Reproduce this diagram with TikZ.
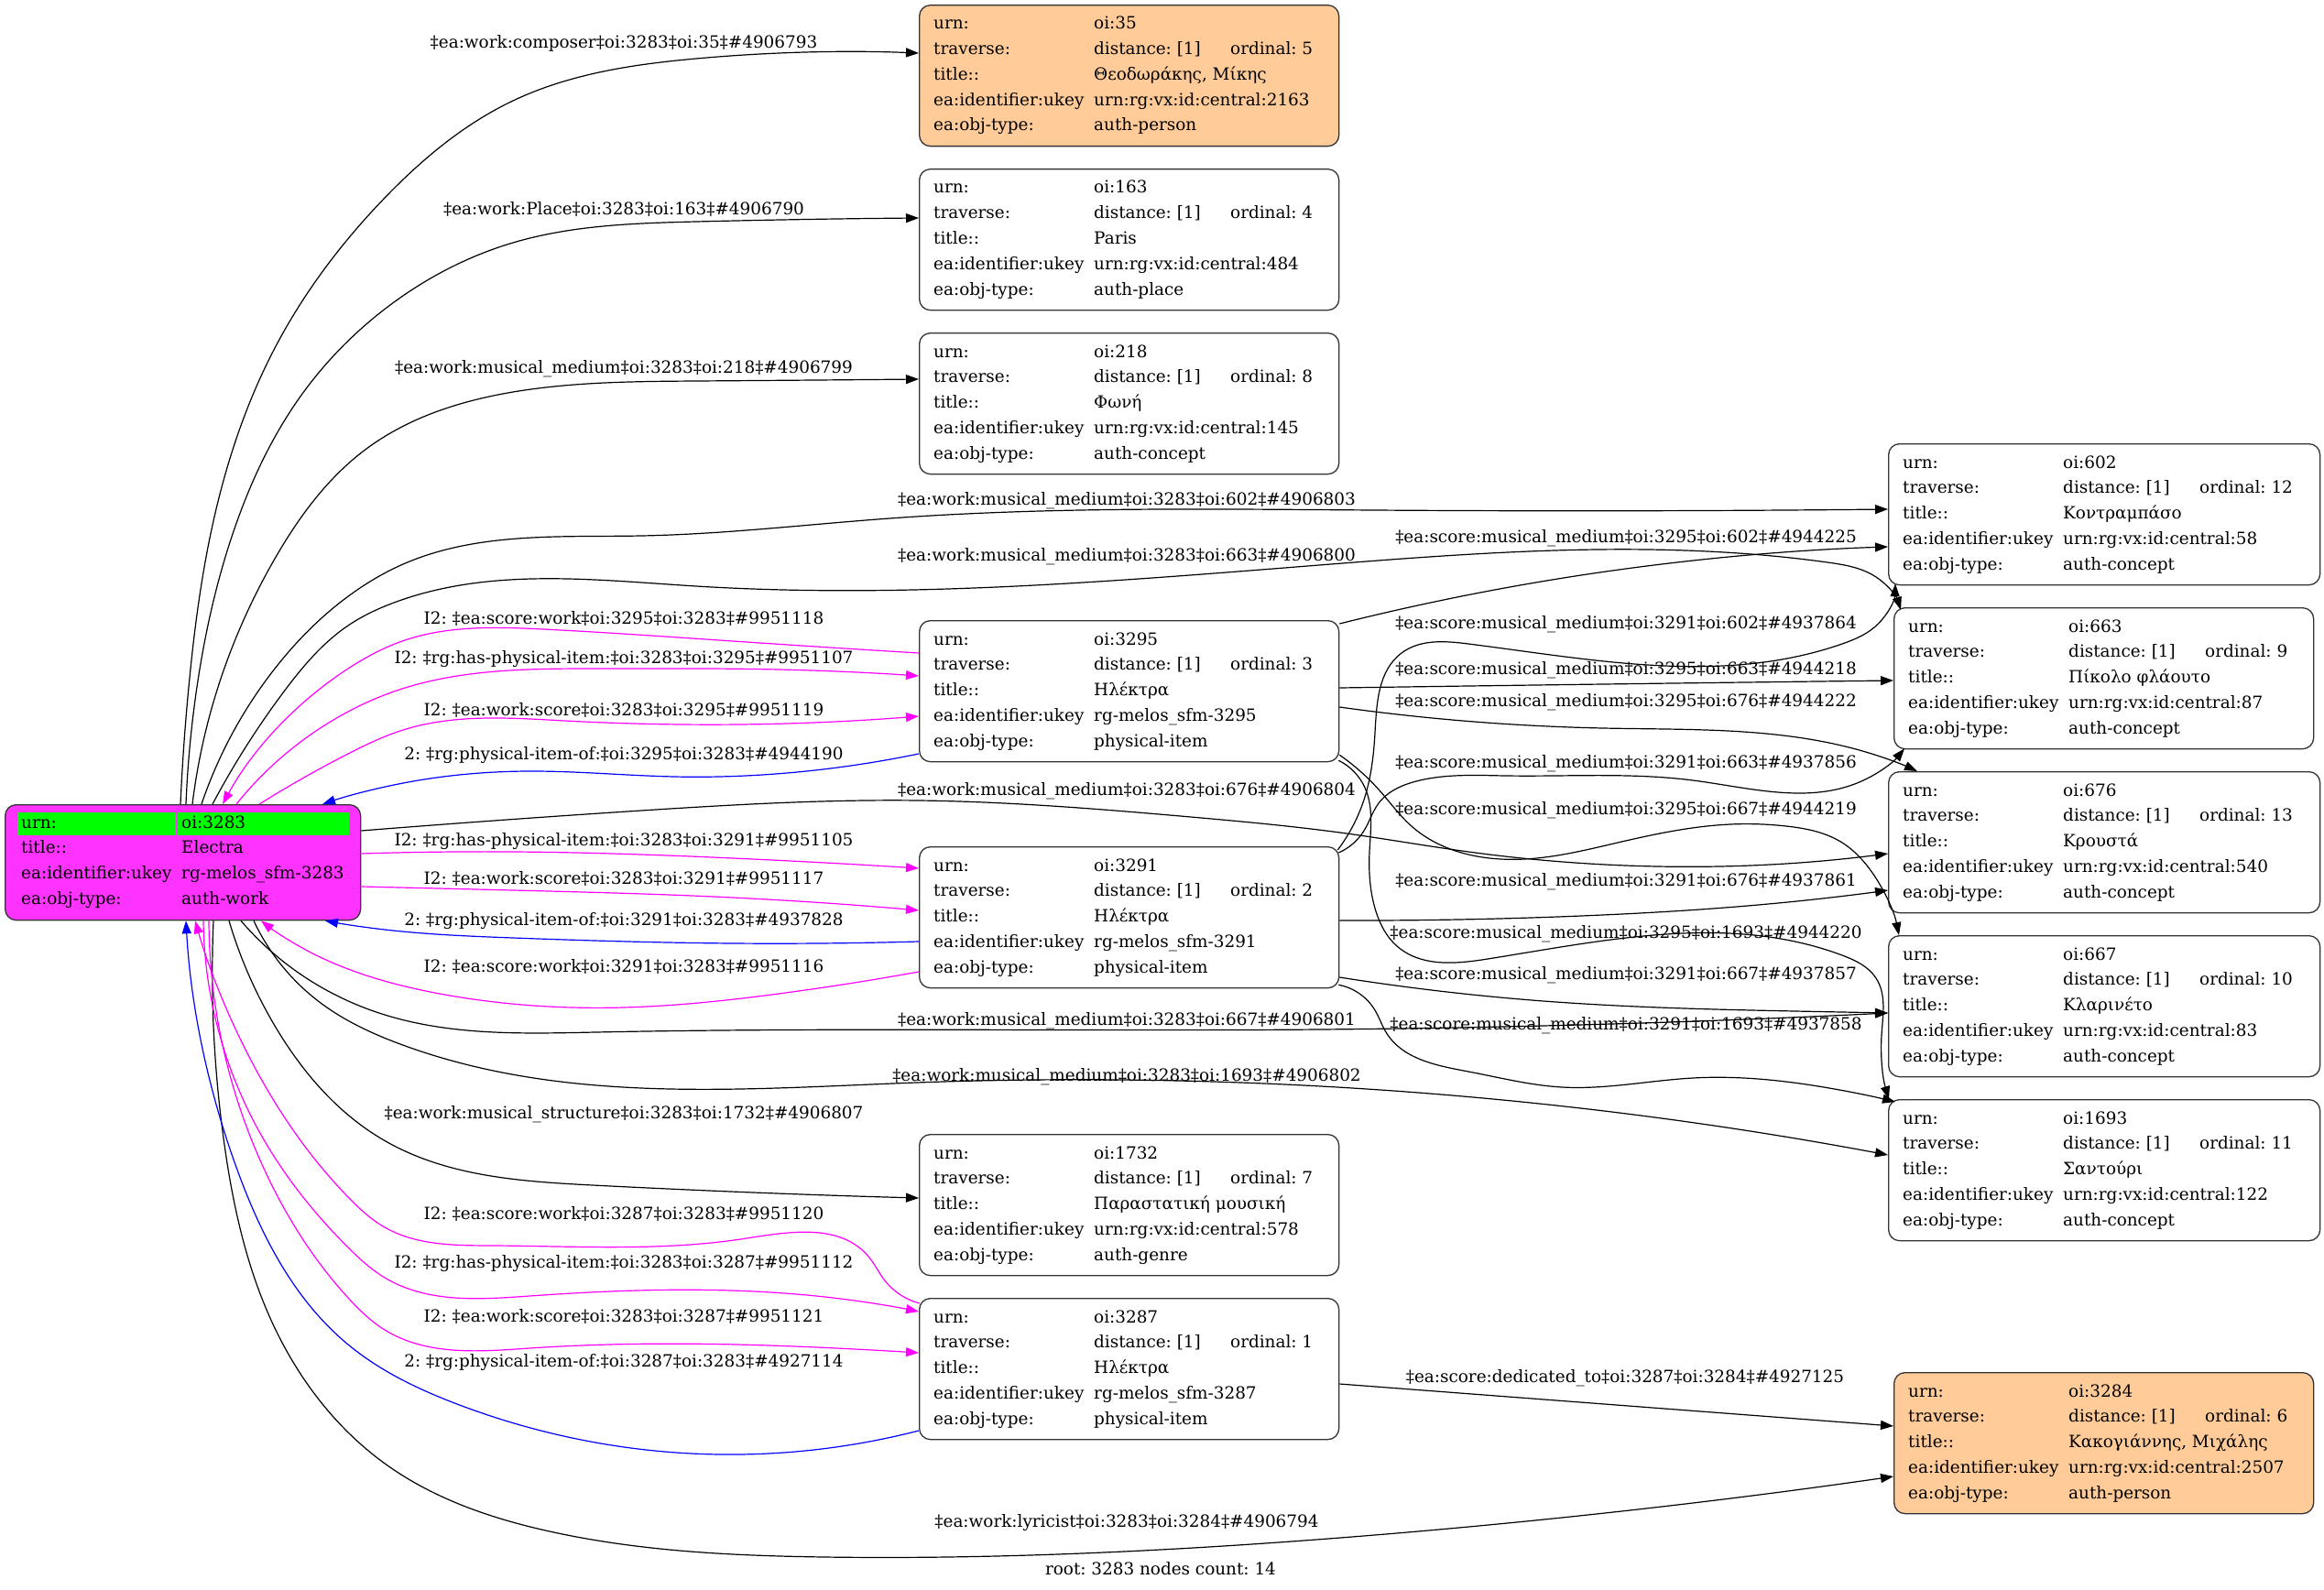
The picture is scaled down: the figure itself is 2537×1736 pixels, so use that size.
\documentclass[tikz,border=0pt]{standalone}
\usepackage{fontspec}
\setmainfont{DejaVu Serif}
\usetikzlibrary{arrows.meta,calc,hobby}
\definecolor{rootfill}{HTML}{FF33FF}
\definecolor{hilite}{HTML}{00FF00}
\definecolor{peach}{HTML}{FFCC99}
\definecolor{emag}{HTML}{FF00FF}
\definecolor{eblue}{HTML}{0000FF}
\definecolor{bord}{HTML}{333333}
\frenchspacing
\newcommand{\fs}{\fontsize{18.4}{22}\selectfont}
\newcommand{\cells}[1]{{\def\arraystretch{1.2614}\begin{tabular}[t]{@{}p{175pt}@{}l@{}}#1\end{tabular}}}
\newcommand{\trav}[1]{\makebox[149pt][l]{distance: [1]}ordinal: #1}
\begin{document}
\frenchspacing
\begin{tikzpicture}[x=1pt,y=-1pt,
  box/.style={draw=bord, line width=1.3pt, rounded corners=12pt, anchor=north west, inner sep=0pt, minimum height=154pt, minimum width=458pt},
  wide/.style={minimum width=471pt},
  txt/.style={anchor=base west, inner sep=0pt, font=\fs},
  lbl/.style={inner sep=0pt, font=\fs},
  edge/.style={line width=1.2pt, -{Triangle[length=14pt,width=10pt]}, use Hobby shortcut},
  em/.style={edge, draw=emag},
  eb/.style={edge, draw=eblue},
]
\fill[white] (0,0) rectangle (2537,1736);
\useasboundingbox (0,0) rectangle (2537,1736);

% ---------- nodes ----------
\node[box, fill=rootfill, minimum width=388pt, minimum height=126pt] (root) at (5,878) {};
\fill[hilite] (19,887) rectangle (192,912);
\fill[hilite] (194,887) rectangle (381,912);
\node[txt] (troot) at ($(root.north west)+(18,26)$) {\cells{urn: & oi:3283\\ title:: & Electra\\ ea:identifier:ukey & rg-melos\_sfm-3283\\ ea:obj-type: & auth-work}};

\node[box, fill=peach] (n35) at (1003,5) {};
\node[txt] (t35) at ($(n35.north west)+(16,27)$) {\cells{urn: & oi:35\\ traverse: & \trav{5}\\ title:: & Θεοδωράκης, Μίκης\\ ea:identifier:ukey & urn:rg:vx:id:central:2163\\ ea:obj-type: & auth-person}};

\node[box] (n163) at (1003,184) {};
\node[txt] (t163) at ($(n163.north west)+(16,27)$) {\cells{urn: & oi:163\\ traverse: & \trav{4}\\ title:: & Paris\\ ea:identifier:ukey & urn:rg:vx:id:central:484\\ ea:obj-type: & auth-place}};

\node[box] (n218) at (1003,363) {};
\node[txt] (t218) at ($(n218.north west)+(16,27)$) {\cells{urn: & oi:218\\ traverse: & \trav{8}\\ title:: & Φωνή\\ ea:identifier:ukey & urn:rg:vx:id:central:145\\ ea:obj-type: & auth-concept}};

\node[box] (n3295) at (1003,677) {};
\node[txt] (t3295) at ($(n3295.north west)+(16,27)$) {\cells{urn: & oi:3295\\ traverse: & \trav{3}\\ title:: & Ηλέκτρα\\ ea:identifier:ukey & rg-melos\_sfm-3295\\ ea:obj-type: & physical-item}};

\node[box] (n3291) at (1003,924) {};
\node[txt] (t3291) at ($(n3291.north west)+(16,27)$) {\cells{urn: & oi:3291\\ traverse: & \trav{2}\\ title:: & Ηλέκτρα\\ ea:identifier:ukey & rg-melos\_sfm-3291\\ ea:obj-type: & physical-item}};

\node[box] (n1732) at (1003,1238) {};
\node[txt] (t1732) at ($(n1732.north west)+(16,27)$) {\cells{urn: & oi:1732\\ traverse: & \trav{7}\\ title:: & Παραστατική μουσική\\ ea:identifier:ukey & urn:rg:vx:id:central:578\\ ea:obj-type: & auth-genre}};

\node[box] (n3287) at (1003,1417) {};
\node[txt] (t3287) at ($(n3287.north west)+(16,27)$) {\cells{urn: & oi:3287\\ traverse: & \trav{1}\\ title:: & Ηλέκτρα\\ ea:identifier:ukey & rg-melos\_sfm-3287\\ ea:obj-type: & physical-item}};

\node[box, wide] (n602) at (2061,484) {};
\node[txt] (t602) at ($(n602.north west)+(16,27)$) {\cells{urn: & oi:602\\ traverse: & \trav{12}\\ title:: & Κοντραμπάσο\\ ea:identifier:ukey & urn:rg:vx:id:central:58\\ ea:obj-type: & auth-concept}};

\node[box] (n663) at (2067,663) {};
\node[txt] (t663) at ($(n663.north west)+(16,27)$) {\cells{urn: & oi:663\\ traverse: & \trav{9}\\ title:: & Πίκολο φλάουτο\\ ea:identifier:ukey & urn:rg:vx:id:central:87\\ ea:obj-type: & auth-concept}};

\node[box, wide] (n676) at (2061,842) {};
\node[txt] (t676) at ($(n676.north west)+(16,27)$) {\cells{urn: & oi:676\\ traverse: & \trav{13}\\ title:: & Κρουστά\\ ea:identifier:ukey & urn:rg:vx:id:central:540\\ ea:obj-type: & auth-concept}};

\node[box, wide] (n667) at (2061,1021) {};
\node[txt] (t667) at ($(n667.north west)+(16,27)$) {\cells{urn: & oi:667\\ traverse: & \trav{10}\\ title:: & Κλαρινέτο\\ ea:identifier:ukey & urn:rg:vx:id:central:83\\ ea:obj-type: & auth-concept}};

\node[box, wide] (n1693) at (2061,1200) {};
\node[txt] (t1693) at ($(n1693.north west)+(16,27)$) {\cells{urn: & oi:1693\\ traverse: & \trav{11}\\ title:: & Σαντούρι\\ ea:identifier:ukey & urn:rg:vx:id:central:122\\ ea:obj-type: & auth-concept}};

\node[box, fill=peach] (n3284) at (2067,1498) {};
\node[txt] (t3284) at ($(n3284.north west)+(16,27)$) {\cells{urn: & oi:3284\\ traverse: & \trav{6}\\ title:: & Κακογιάννης, Μιχάλης\\ ea:identifier:ukey & urn:rg:vx:id:central:2507\\ ea:obj-type: & auth-person}};

% ---------- edges: root upward ----------
\draw[edge] (root.north -| 197,0) .. (207,740) .. (235,560) .. (300,380) .. (421,215) .. (560,110) .. (760,64) .. (n35.west |- 0,58);
\draw[edge] (root.north -| 203,0) .. (215,750) .. (255,580) .. (330,430) .. (430,330) .. (560,265) .. (760,242) .. (n163.west |- 0,238);
\draw[edge] (root.north -| 210,0) .. (232,770) .. (300,610) .. (400,490) .. (560,428) .. (760,416) .. (n218.west |- 0,414);
\draw[edge] (root.north -| 220,0) .. (300,730) .. (396,640) .. (440,616) .. (700,585) .. (971,566) .. (1500,557) .. (n602.west |- 0,556);
\draw[edge] (root.north -| 232,0) .. (310,755) .. (380,683) .. (430,658) .. (760,640) .. (1440,617) .. (1995,614) .. (2048,630) .. ($(n663.north west)+(8,3)$);

% root <-> 3295
\draw[em] (n3295.west |- 0,713) .. (800,700) .. (593,687) .. (439,700) .. (380,730) .. (root.north -| 243,0);
\draw[em] (root.north -| 258,0) .. (380,777) .. (430,755) .. (657,730) .. (850,731) .. (n3295.west |- 0,738);
\draw[em] (root.north -| 283,0) .. (380,823) .. (440,797) .. (617,787) .. (n3295.west |- 0,782);
\draw[eb] (n3295.west |- 0,823) .. (870,843) .. (736,848) .. (578,842) .. (440,855) .. (root.north -| 352,0);

% root -> 676 (work)
\draw[edge] (root.east |- 0,907) .. (700,885) .. (1003,874) .. (1300,892) .. (1470,910) .. (1603,930) .. (n676.west |- 0,932);

% root <-> 3291
\draw[em] (root.east |- 0,932) .. (560,930) .. (800,937) .. (n3291.west |- 0,948);
\draw[em] (root.east |- 0,968) .. (560,972) .. (800,980) .. (n3291.west |- 0,994);
\draw[eb] (n3291.west |- 0,1028) .. (800,1030) .. (560,1024) .. (420,1015) .. (root.south -| 355,0);
\draw[em] (n3291.west |- 0,1061) .. (850,1085) .. (680,1100) .. (480,1085) .. (330,1035) .. (root.south -| 285,0);

% root downward black
\draw[edge] (root.south -| 263,0) .. (330,1065) .. (420,1108) .. (650,1127) .. (1440,1124) .. (n667.west |- 0,1106);
\draw[edge] (root.south -| 277,0) .. (350,1095) .. (437,1140) .. (1000,1182) .. (n1693.west |- 0,1261);
\draw[edge] (root.south -| 250,0) .. (300,1120) .. (421,1246) .. (647,1294) .. (n1732.west |- 0,1308);
\draw[edge] (root.south -| 233,0) .. (245,1250) .. (300,1450) .. (423,1600) .. (600,1672) .. (900,1700) .. (1450,1680) .. (n3284.west |- 0,1612);

% root <-> 3287
\draw[em] ($(n3287.north west)+(1,6)$) .. (965,1397) .. (949,1373) .. (815,1352) .. (538,1360) .. (420,1340) .. (380,1307) .. (270,1150) .. (root.south -| 213,0);
\draw[em] (root.south -| 222,0) .. (280,1230) .. (380,1362) .. (420,1395) .. (578,1415) .. (933,1420) .. (n3287.west |- 0,1432);
\draw[em] (root.south -| 228,0) .. (290,1280) .. (380,1417) .. (420,1452) .. (578,1472) .. (933,1473) .. (n3287.west |- 0,1477);
\draw[eb] (n3287.west |- 0,1562) .. (755,1587) .. (499,1533) .. (380,1468) .. (260,1280) .. (root.south -| 203,0);

% 3287 -> 3284
\draw[edge] (n3287.east |- 0,1511) -- (n3284.west |- 0,1557);

% score medium edges
\draw[edge] (n3295.east |- 0,681) .. (1726,628) .. (n602.west |- 0,597);
\draw[edge] ($(n3291.north east)+(-2,4)$) .. (1490,870) .. (1501,800) .. (1530,713) .. (1603,703) .. (2011,703) .. (2046,685) .. ($(n602.south west)+(8,-2)$);
\draw[edge] (n3295.east |- 0,751) .. (1750,747) .. (n663.west |- 0,743);
\draw[edge] ($(n3291.north east)+(-1,7)$) .. (1489,907) .. (1505,877) .. (1546,853) .. (1644,847) .. (1848,852) .. (2032,853) .. ($(n663.south west)+(12,-1)$);
\draw[edge] (n3295.east |- 0,772) .. (1750,795) .. (2040,822) .. (n676.north -| 2093,0);
\draw[edge] (n3291.east |- 0,1005) .. (1726,1000) .. (1971,983) .. (n676.west |- 0,972);
\draw[edge] ($(n3295.south east)+(0,-8)$) .. (1505,862) .. (1542,903) .. (1603,933) .. (1664,938) .. (1766,920) .. (1889,900) .. (1950,902) .. (2011,920) .. (2044,953) .. (n667.north -| 2073,0);
\draw[edge] ($(n3295.south east)+(-1,-2)$) .. (1490,860) .. (1495,930) .. (1502,995) .. (1525,1033) .. (1624,1047) .. (2011,1043) .. (2048,1068) .. (2054,1130) .. (n1693.north -| 2062,0);
\draw[edge] (n3291.east |- 0,1067) .. (1685,1093) .. (2011,1105) .. (n667.west |- 0,1106);
\draw[edge] ($(n3291.south east)+(-1,-4)$) .. (1501,1103) .. (1513,1127) .. (1603,1170) .. (1705,1187) .. (1848,1177) .. (1991,1187) .. ($(n1693.north west)+(8,3)$);

% ---------- labels ----------
\node[lbl] (l01) at (681,47) {‡ea:work:composer‡oi:3283‡oi:35‡\#4906793};
\node[lbl] (l02) at (681,228) {‡ea:work:Place‡oi:3283‡oi:163‡\#4906790};
\node[lbl] (l03) at (681,403) {‡ea:work:musical\_medium‡oi:3283‡oi:218‡\#4906799};
\node[lbl] (l04) at (1230,547) {‡ea:work:musical\_medium‡oi:3283‡oi:602‡\#4906803};
\node[lbl] (l05) at (1230,608) {‡ea:work:musical\_medium‡oi:3283‡oi:663‡\#4906800};
\node[lbl] (l06) at (681,675) {I2: ‡ea:score:work‡oi:3295‡oi:3283‡\#9951118};
\node[lbl] (l07) at (681,720) {I2: ‡rg:has-physical-item:‡oi:3283‡oi:3295‡\#9951107};
\node[lbl] (l08) at (681,775) {I2: ‡ea:work:score‡oi:3283‡oi:3295‡\#9951119};
\node[lbl] (l09) at (681,825) {2: ‡rg:physical-item-of:‡oi:3295‡oi:3283‡\#4944190};
\node[lbl] (l10) at (1230,864) {‡ea:work:musical\_medium‡oi:3283‡oi:676‡\#4906804};
\node[lbl] (l11) at (681,919) {I2: ‡rg:has-physical-item:‡oi:3283‡oi:3291‡\#9951105};
\node[lbl] (l12) at (681,959) {I2: ‡ea:work:score‡oi:3283‡oi:3291‡\#9951117};
\node[lbl] (l13) at (681,1006) {2: ‡rg:physical-item-of:‡oi:3291‡oi:3283‡\#4937828};
\node[lbl] (l14) at (681,1055) {I2: ‡ea:score:work‡oi:3291‡oi:3283‡\#9951116};
\node[lbl] (l15) at (1230,1115) {‡ea:work:musical\_medium‡oi:3283‡oi:667‡\#4906801};
\node[lbl] (l16) at (1230,1176) {‡ea:work:musical\_medium‡oi:3283‡oi:1693‡\#4906802};
\node[lbl] (l17) at (681,1217) {‡ea:work:musical\_structure‡oi:3283‡oi:1732‡\#4906807};
\node[lbl] (l18) at (681,1325) {I2: ‡ea:score:work‡oi:3287‡oi:3283‡\#9951120};
\node[lbl] (l19) at (681,1380) {I2: ‡rg:has-physical-item:‡oi:3283‡oi:3287‡\#9951112};
\node[lbl] (l20) at (681,1437) {I2: ‡ea:work:score‡oi:3283‡oi:3287‡\#9951121};
\node[lbl] (l21) at (681,1488) {2: ‡rg:physical-item-of:‡oi:3287‡oi:3283‡\#4927114};
\node[lbl] (l22) at (1774,1505) {‡ea:score:dedicated\_to‡oi:3287‡oi:3284‡\#4927125};
\node[lbl] (l23) at (1230,1663) {‡ea:work:lyricist‡oi:3283‡oi:3284‡\#4906794};
\node[lbl] (l24) at (1775,588) {‡ea:score:musical\_medium‡oi:3295‡oi:602‡\#4944225};
\node[lbl] (l25) at (1775,682) {‡ea:score:musical\_medium‡oi:3291‡oi:602‡\#4937864};
\node[lbl] (l26) at (1775,732) {‡ea:score:musical\_medium‡oi:3295‡oi:663‡\#4944218};
\node[lbl] (l27) at (1775,767) {‡ea:score:musical\_medium‡oi:3295‡oi:676‡\#4944222};
\node[lbl] (l28) at (1775,834) {‡ea:score:musical\_medium‡oi:3291‡oi:663‡\#4937856};
\node[lbl] (l29) at (1775,885) {‡ea:score:musical\_medium‡oi:3295‡oi:667‡\#4944219};
\node[lbl] (l30) at (1775,963) {‡ea:score:musical\_medium‡oi:3291‡oi:676‡\#4937861};
\node[lbl] (l31) at (1775,1020) {‡ea:score:musical\_medium‡oi:3295‡oi:1693‡\#4944220};
\node[lbl] (l32) at (1775,1065) {‡ea:score:musical\_medium‡oi:3291‡oi:667‡\#4937857};
\node[lbl] (l33) at (1775,1120) {‡ea:score:musical\_medium‡oi:3291‡oi:1693‡\#4937858};
\node[lbl] (cap) at (1267,1713) {root: 3283 nodes count: 14};
\end{tikzpicture}
\end{document}
